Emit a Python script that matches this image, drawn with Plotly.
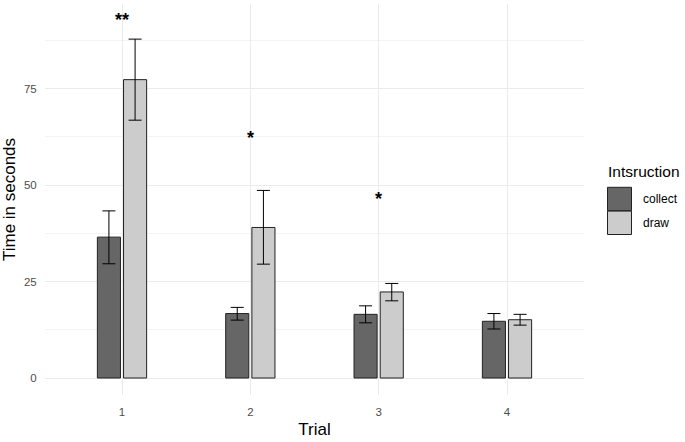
import plotly.graph_objects as go

trials = [1, 2, 3, 4]
tick_labels = ["1", "2", "3", "4"]
groups = ["collect", "draw"]
collect_mean = [36.5, 16.7, 16.5, 14.7]
collect_upper = [43.3, 18.3, 18.7, 16.7]
collect_lower = [29.6, 15.0, 14.3, 12.7]
draw_mean = [77.3, 39.0, 22.3, 15.1]
draw_upper = [87.8, 48.6, 24.5, 16.5]
draw_lower = [66.8, 29.5, 20.0, 13.7]
sig_trials = [1, 2, 3]
sig_labels = ["**", "*", "*"]
sig_y = [92.8, 62.2, 46.4]
colors = {"collect": "#666666", "draw": "#cccccc"}

FONT = "Liberation Sans, Arial, sans-serif"

fig = go.Figure()
for name, mean, up, lo in [("collect", collect_mean, collect_upper, collect_lower),
                           ("draw", draw_mean, draw_upper, draw_lower)]:
    fig.add_trace(go.Bar(
        x=trials, y=mean, name=name,
        marker=dict(color=colors[name], line=dict(color="#222222", width=1)),
        error_y=dict(type="data", symmetric=False,
                     array=[u - m for u, m in zip(up, mean)],
                     arrayminus=[m - l for m, l in zip(mean, lo)],
                     color="#000000", thickness=1, width=6.5),
        showlegend=False,
    ))

for t, lab, yv in zip(sig_trials, sig_labels, sig_y):
    fig.add_annotation(x=t, y=yv, text="<b>" + lab + "</b>", showarrow=False,
                       font=dict(family=FONT, size=18, color="#000000"),
                       xanchor="center", yanchor="middle")

# Legend (drawn manually to match ggplot key size)
def px2paper_x(px):
    return (px - 45) / 539.0

def px2paper_y(py):
    return (395 - py) / 391.0

fig.add_annotation(xref="paper", yref="paper", x=px2paper_x(606), y=px2paper_y(172),
                   text="Intsruction", showarrow=False, xanchor="left", yanchor="middle",
                   font=dict(family=FONT, size=15.5, color="#000000"))
for i, g in enumerate(groups):
    top = 187.3 + i * 23.8
    bot = top + 23.4
    fig.add_shape(type="rect", xref="paper", yref="paper",
                  x0=px2paper_x(607.5), x1=px2paper_x(631.5),
                  y0=px2paper_y(bot), y1=px2paper_y(top),
                  fillcolor=colors[g], line=dict(color="#222222", width=1))
    fig.add_annotation(xref="paper", yref="paper", x=px2paper_x(641), y=px2paper_y((top + bot) / 2),
                       text=g, showarrow=False, xanchor="left", yanchor="middle",
                       font=dict(family=FONT, size=12, color="#000000"))

fig.update_layout(
    width=685, height=442,
    margin=dict(l=45, r=101, t=4, b=47),
    paper_bgcolor="white", plot_bgcolor="white",
    barmode="group", bargap=0.592, bargroupgap=0.118,
    font=dict(family=FONT),
    hovermode=False,
)
fig.update_xaxes(
    range=[0.4, 4.6], tickvals=trials, ticktext=tick_labels,
    showgrid=True, gridcolor="#ebebeb", gridwidth=1, zeroline=False, showline=False,
    ticks="outside", ticklen=6, tickcolor="rgba(0,0,0,0)",
    tickfont=dict(family=FONT, size=11.5, color="#4d4d4d"),
    title=dict(text="Trial", font=dict(family=FONT, size=17, color="#000000"), standoff=6),
)
fig.update_yaxes(
    range=[-4.4, 96.9], tickvals=[0, 25, 50, 75],
    showgrid=True, gridcolor="#ebebeb", gridwidth=1, zeroline=False, showline=False,
    ticks="outside", ticklen=5, tickcolor="rgba(0,0,0,0)",
    tickfont=dict(family=FONT, size=11.5, color="#4d4d4d"),
    minor=dict(tickvals=[12.5, 37.5, 62.5, 87.5], showgrid=True, gridcolor="#f4f4f4", gridwidth=1, ticks=""),
    title=dict(text="Time in seconds", font=dict(family=FONT, size=17, color="#000000"), standoff=5),
)

fig.write_html("out.html", config={"displayModeBar": False},
               post_script="document.body.style.margin='0px';document.body.style.overflow='hidden';")
